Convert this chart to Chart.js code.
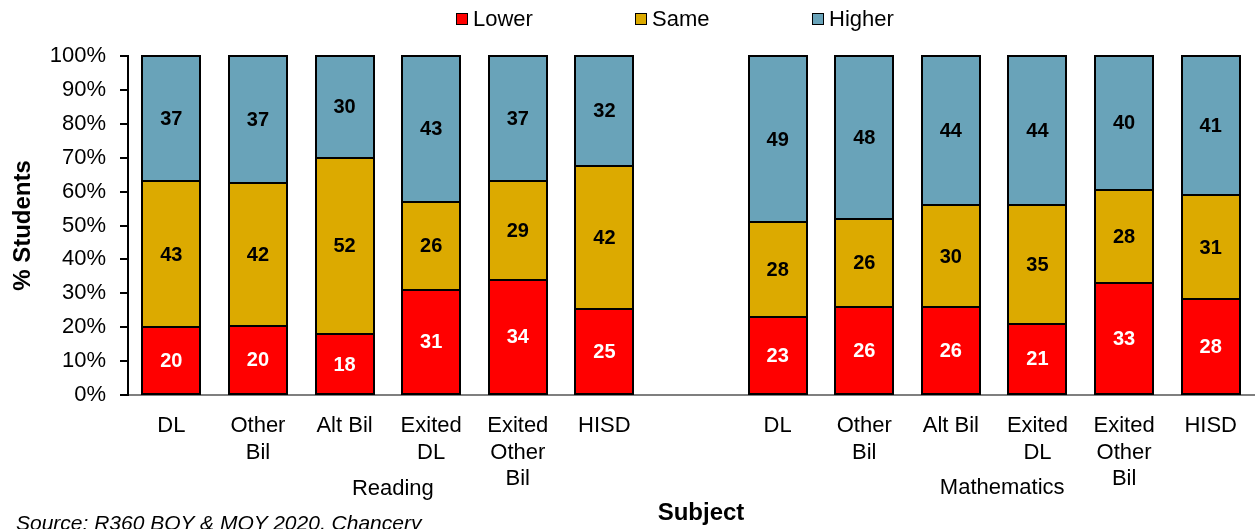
<!DOCTYPE html>
<html>
<head>
<meta charset="utf-8">
<script src="https://cdn.jsdelivr.net/npm/chart.js@4"></script>
<style>
    html, body { margin: 0; padding: 0; background: #fff; }
    #wrap { position: relative; width: 1255px; height: 529px; overflow: hidden; font-family: 'Liberation Sans', Arial, sans-serif; }
    #chart { position: absolute; left: 0; top: 0; }
    .leg { position: absolute; top: 6px; font-size: 22px; line-height: 26px; color: #000; white-space: nowrap; }
    .leg i { display: inline-block; width: 10px; height: 10px; border: 1.5px solid #000; margin-right: 5px; vertical-align: 1px; }
    #source { position: absolute; left: 16px; top: 512px; font-size: 21px; line-height: 21px; font-style: italic; color: #000; white-space: nowrap; }
</style>
</head>
<body>
<div id="wrap">
    <canvas id="chart" width="1255" height="529"></canvas>
    <div class="leg" style="left:456px"><i style="background:#ff0000"></i>Lower</div>
    <div class="leg" style="left:635px"><i style="background:#dcaa00"></i>Same</div>
    <div class="leg" style="left:812px"><i style="background:#69a3b9"></i>Higher</div>
    <div id="source">Source: R360 BOY &amp; MOY 2020, Chancery</div>
</div>
<script>
// categories per subject
const groupLabels = ['DL', ['Other', 'Bil'], 'Alt Bil', ['Exited', 'DL'], ['Exited', 'Other', 'Bil'], 'HISD'];
const subjects = ['Reading', 'Mathematics'];

// Reading (% of students)
const readingLower  = [20, 20.4, 18, 31, 34, 25.4];
const readingSame   = [43, 42.2, 52, 26, 29, 42.2];
const readingHigher = [37, 37.4, 30, 43, 37, 32.4];

// Mathematics (% of students)
const mathLower  = [23, 26, 26, 21, 32.9, 28.3];
const mathSame   = [28, 26, 30, 35, 27.6, 30.7];
const mathHigher = [49, 48, 44, 44, 39.5, 41];

const yTicks = [0, 10, 20, 30, 40, 50, 60, 70, 80, 90, 100];

// one empty slot between the two subjects
const labels = groupLabels.concat([''], groupLabels);
function joinGroups(a, b) { return a.concat([null], b); }

const colors = { lower: '#ff0000', same: '#dcaa00', higher: '#69a3b9' };

// black outline round every segment + numbers inside
const barValues = {
    id: 'barValues',
    afterDatasetsDraw(chart) {
        const ctx = chart.ctx;
        ctx.save();
        ctx.strokeStyle = '#000';
        ctx.lineWidth = 2;
        chart.data.datasets.forEach((ds, di) => {
            chart.getDatasetMeta(di).data.forEach((bar, i) => {
                if (ds.data[i] === null) return;
                const half = bar.width / 2;
                ctx.strokeRect(Math.round(bar.x - half), Math.round(bar.y), Math.round(bar.width), Math.round(bar.base) - Math.round(bar.y));
            });
        });
        ctx.font = 'bold 20px "Liberation Sans", Arial, sans-serif';
        ctx.textAlign = 'center';
        ctx.textBaseline = 'middle';
        chart.data.datasets.forEach((ds, di) => {
            chart.getDatasetMeta(di).data.forEach((bar, i) => {
                const v = ds.data[i];
                if (v === null) return;
                ctx.fillStyle = di === 0 ? '#fff' : '#000';
                ctx.fillText(Math.round(v), bar.x, (bar.y + bar.base) / 2 + 1);
            });
        });
        ctx.restore();
    }
};

// subject names under the categories and the x axis title
const subjectText = {
    id: 'subjectText',
    afterDraw(chart) {
        const ctx = chart.ctx;
        const x = chart.scales.x;
        ctx.save();
        ctx.fillStyle = '#000';
        ctx.textAlign = 'center';
        ctx.textBaseline = 'middle';
        ctx.font = '22px "Liberation Sans", Arial, sans-serif';
        const r = (x.getPixelForValue(2) + x.getPixelForValue(3)) / 2 + 5;
        const m = (x.getPixelForValue(9) + x.getPixelForValue(10)) / 2 + 8;
        ctx.fillText(subjects[0], r, 489);
        ctx.fillText(subjects[1], m, 488);
        ctx.font = 'bold 24px "Liberation Sans", Arial, sans-serif';
        ctx.fillText('Subject', 701, 513);
        ctx.restore();
    }
};

const ctx = document.getElementById('chart').getContext('2d');
new Chart(ctx, {
    type: 'bar',
    data: {
        labels: labels,
        datasets: [
            { label: 'Lower', data: joinGroups(readingLower, mathLower), backgroundColor: colors.lower },
            { label: 'Same', data: joinGroups(readingSame, mathSame), backgroundColor: colors.same },
            { label: 'Higher', data: joinGroups(readingHigher, mathHigher), backgroundColor: colors.higher }
        ].map(ds => Object.assign(ds, {
            borderWidth: 0,
            barPercentage: 0.67,
            categoryPercentage: 1
        }))
    },
    options: {
        responsive: false,
        animation: false,
        layout: { padding: { top: 56, left: 0, right: 0, bottom: 0 } },
        plugins: {
            legend: { display: false },
            tooltip: { enabled: false }
        },
        scales: {
            x: {
                stacked: true,
                afterFit: scale => { scale.height = 134; },
                grid: { display: false, drawTicks: false },
                border: { display: true, color: '#7f7f7f', width: 2 },
                ticks: {
                    color: '#000',
                    padding: 18,
                    maxRotation: 0,
                    autoSkip: false,
                    font: { family: '"Liberation Sans", Arial, sans-serif', size: 22, lineHeight: 1.2 }
                }
            },
            y: {
                stacked: true,
                min: 0,
                max: 100,
                afterFit: scale => { scale.width = 128; },
                afterBuildTicks: scale => { scale.ticks = yTicks.map(v => ({ value: v })); },
                grid: { drawOnChartArea: false, drawTicks: true, tickLength: 8, color: '#000', lineWidth: 2 },
                border: { display: true, color: '#000', width: 2 },
                ticks: {
                    color: '#000',
                    padding: 14,
                    callback: v => v + '%',
                    font: { family: '"Liberation Sans", Arial, sans-serif', size: 22 }
                },
                title: {
                    display: true,
                    text: '% Students',
                    color: '#000',
                    padding: { top: 9, bottom: 0 },
                    font: { family: '"Liberation Sans", Arial, sans-serif', size: 24, weight: 'bold' }
                }
            }
        }
    },
    plugins: [barValues, subjectText]
});
</script>
</body>
</html>
